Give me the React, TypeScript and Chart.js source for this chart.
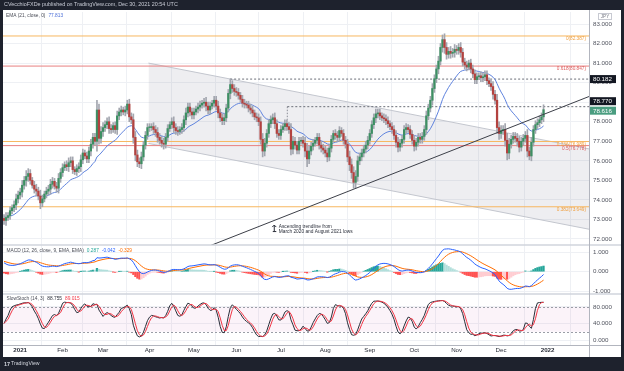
import React, { useEffect, useRef } from 'react';
import { Chart, registerables } from 'chart.js';
Chart.register(...registerables);

// ---------------- data ----------------
const monthTickBars = [8, 29, 49, 72, 94, 115, 137, 159, 181, 203, 224, 246, 269];
const monthTickLabels = ['2021', 'Feb', 'Mar', 'Apr', 'May', 'Jun', 'Jul', 'Aug', 'Sep', 'Oct', 'Nov', 'Dec', '2022'];

const firstOpen = 73.05;
// daily closes, Dec 21 2020 .. Dec 30 2021
const closes = [
  72.95, 73.1, 73.2, 73.45, 73.6, 73.75, 74.05, 74.25,
  74.4, 74.75, 75.0, 75.2, 75.35, 75.0, 74.75, 74.55, 74.45, 74.2, 73.85, 74.05, 74.3, 74.45, 74.55, 74.8, 74.95, 74.7, 74.6, 75.1, 75.4,
  75.65, 75.8, 75.7, 75.9, 76.0, 75.55, 75.45, 75.6, 75.7, 76.05, 76.4, 76.25, 76.1, 76.5, 76.85, 77.2, 77.0, 78.6, 77.15, 77.5,
  77.7, 77.85, 78.0, 77.65, 77.6, 77.8, 77.6, 78.3, 78.5, 78.6, 78.5, 78.6, 78.9, 78.25, 78.1, 77.2, 76.3, 75.95, 75.85, 76.2, 76.8, 77.3, 77.7,
  77.7, 77.75, 77.6, 77.45, 77.2, 77.05, 76.9, 76.85, 77.2, 77.65, 77.85, 78.0, 77.7, 77.55, 77.5, 77.6, 77.7, 78.1, 78.45, 78.75, 78.5, 78.35,
  78.5, 78.65, 78.75, 78.85, 78.95, 79.0, 78.8, 78.6, 78.8, 78.95, 79.1, 78.8, 78.45, 78.2, 78.05, 78.2, 78.7, 79.45, 79.9, 79.7, 79.55,
  79.5, 79.35, 79.15, 78.95, 78.9, 78.85, 78.7, 78.6, 78.45, 78.25, 78.2, 78.0, 77.1, 76.5, 76.9, 77.4, 77.9, 78.1, 78.2, 77.9, 77.4, 77.3,
  77.6, 77.75, 77.9, 77.75, 77.6, 76.6, 77.0, 76.8, 76.55, 77.0, 77.05, 76.9, 76.5, 76.1, 76.5, 76.75, 76.9, 77.05, 77.2, 76.8, 76.65, 76.55,
  76.4, 76.2, 76.65, 77.1, 77.4, 77.3, 77.2, 77.55, 77.4, 77.05, 76.85, 76.2, 75.8, 75.4, 74.9, 75.2, 76.0, 76.2, 76.4, 76.6, 76.8, 77.05,
  77.4, 77.85, 78.2, 78.4, 78.45, 78.3, 78.2, 78.15, 78.05, 77.9, 77.75, 77.6, 77.3, 76.95, 76.7, 76.9, 77.1, 77.6, 77.7, 77.6, 77.35, 77.05,
  76.75, 76.95, 77.2, 77.1, 77.25, 77.6, 78.3, 78.7, 79.1, 79.7, 80.2, 80.7, 81.1, 81.8, 82.2, 81.8, 81.45, 81.6, 81.5, 81.55, 81.7,
  81.65, 81.8, 81.55, 81.05, 80.9, 80.8, 81.0, 80.7, 80.45, 80.15, 80.3, 80.35, 80.25, 80.3, 80.4, 80.1, 79.95, 79.8, 79.4, 79.1, 77.7, 77.4,
  77.55, 77.6, 77.05, 76.4, 76.85, 77.1, 77.25, 77.15, 77.0, 76.7, 77.0, 77.15, 77.3, 76.5, 76.25, 76.95, 77.6, 77.85, 77.95, 78.1, 78.25, 78.616,
];
// wick length beyond the body, per candle
const wicks = [
  0.2, 0.25, 0.15, 0.2, 0.15, 0.2, 0.25, 0.2,
  0.2, 0.25, 0.2, 0.3, 0.25, 0.2, 0.15, 0.2, 0.25, 0.2, 0.3, 0.2, 0.15, 0.2, 0.2, 0.25, 0.2, 0.15, 0.2, 0.25, 0.2,
  0.2, 0.15, 0.2, 0.25, 0.2, 0.2, 0.15, 0.2, 0.2, 0.25, 0.2, 0.15, 0.2, 0.2, 0.25, 0.2, 0.2, 0.5, 0.3, 0.25,
  0.25, 0.2, 0.2, 0.25, 0.2, 0.15, 0.2, 0.25, 0.2, 0.2, 0.15, 0.2, 0.2, 0.25, 0.2, 0.3, 0.3, 0.25, 0.2, 0.25, 0.2, 0.2, 0.2,
  0.2, 0.15, 0.2, 0.2, 0.25, 0.2, 0.2, 0.25, 0.2, 0.2, 0.15, 0.2, 0.25, 0.2, 0.2, 0.15, 0.2, 0.2, 0.25, 0.2, 0.2, 0.2,
  0.2, 0.15, 0.2, 0.2, 0.15, 0.2, 0.25, 0.2, 0.2, 0.15, 0.2, 0.2, 0.25, 0.2, 0.2, 0.2, 0.2, 0.2, 0.28, 0.2, 0.2,
  0.2, 0.2, 0.15, 0.2, 0.2, 0.15, 0.2, 0.2, 0.2, 0.15, 0.2, 0.2, 0.25, 0.3, 0.25, 0.2, 0.2, 0.2, 0.2, 0.25, 0.2, 0.2,
  0.2, 0.15, 0.2, 0.2, 0.2, 0.3, 0.25, 0.2, 0.2, 0.2, 0.15, 0.2, 0.3, 0.4, 0.25, 0.2, 0.2, 0.15, 0.2, 0.2, 0.2, 0.2,
  0.2, 0.25, 0.2, 0.2, 0.15, 0.2, 0.2, 0.2, 0.15, 0.2, 0.2, 0.25, 0.3, 0.3, 0.3, 0.3, 0.25, 0.2, 0.2, 0.2, 0.2, 0.2,
  0.2, 0.2, 0.2, 0.25, 0.2, 0.2, 0.15, 0.2, 0.2, 0.2, 0.15, 0.2, 0.2, 0.25, 0.25, 0.2, 0.2, 0.2, 0.2, 0.15, 0.2, 0.2,
  0.25, 0.2, 0.2, 0.2, 0.2, 0.2, 0.25, 0.2, 0.2, 0.25, 0.2, 0.2, 0.25, 0.2, 0.24, 0.3, 0.25, 0.2, 0.25, 0.2, 0.25,
  0.2, 0.2, 0.25, 0.2, 0.2, 0.2, 0.15, 0.2, 0.2, 0.2, 0.2, 0.15, 0.2, 0.2, 0.2, 0.2, 0.15, 0.2, 0.25, 0.2, 0.3, 0.3,
  0.25, 0.2, 0.3, 0.35, 0.3, 0.2, 0.2, 0.2, 0.25, 0.25, 0.2, 0.2, 0.2, 0.3, 0.2, 0.25, 0.2, 0.2, 0.2, 0.2, 0.2, 0.25,
];

const emaSeed = 73.15;
const macdFastSeed = 73.55;
const macdSlowSeed = 73.0;
const macdSignalSeed = 0.55;

const priceTicks = [72, 73, 74, 75, 76, 77, 78, 79, 80, 81, 82, 83];
const macdTicks = [1, 0, -1];
const stochTicks = [80, 40, 0];
const stochBand = [20, 80];

const fibPrices = [82.387, 80.847, 76.989, 76.778, 73.649];
const fibLabels = ['0(82.387)', '0.618(80.847)', '0.236(76.989)', '0.5(76.778)', '0.382(73.649)'];

const levelPrices = [80.182, 78.77];
const levelStartBars = [111.9, 140.2];
const bracketEnd = 78.1;

const channelBars = [71.5, 289.5];
const channelUpper = [81.0, 76.61];
const channelLower = [76.89, 72.5];

const trendBars = [100, 289.5];
const trendPrices = [71.576, 79.29];

const tagPrices = [80.182, 78.77, 78.616];
const tagTexts = ['80.182', '78.770', '78.616'];

const headerText = 'CVecchioFXDe published on TradingView.com, Dec 30, 2021 20:54 UTC';
const emaLegend = ['EMA (21, close, 0)', '77.813'];
const macdLegend = ['MACD (12, 26, close, 9, EMA, EMA)', '0.287', '-0.042', '-0.329'];
const stochLegend = ['SlowStoch (14, 3)', '88.755', '89.015'];
const noteLines = ['Ascending trendline from', 'March 2020 and August 2021 lows'];
const noteAnchor = [133.5, 72.56];

// ---------------- styles ----------------
const FONT = '"Liberation Sans", Arial, sans-serif';
const ORANGE = '#f7b760';
const RED = '#e88080';
const fibColors = [ORANGE, RED, ORANGE, RED, ORANGE];
const fibTextColors = ['#f0a040', '#dd5c5c', '#f0a040', '#dd5c5c', '#f0a040'];
const UP = '#3d8f63';
const DOWN = '#b3423f';
const WICK = '#a3a6af';
const GRID = '#eef0f4';
const AXIS_TXT = '#50535e';

// ---------------- derived series ----------------
const bars = closes.map((_, i) => i);
const opens = closes.map((c, i) => (i === 0 ? firstOpen : closes[i - 1]));
const highs = closes.map((c, i) => Math.max(opens[i], c) + wicks[i]);
const lows = closes.map((c, i) => Math.min(opens[i], c) - wicks[i]);

function ema(vals: number[], period: number, seed: number) {
  const k = 2 / (period + 1);
  const out: number[] = [];
  let e = seed;
  vals.forEach((v) => {
    e = e + k * (v - e);
    out.push(e);
  });
  return out;
}
const ema21 = ema(closes, 21, emaSeed);
const fast = ema(closes, 12, macdFastSeed);
const slow = ema(closes, 26, macdSlowSeed);
const macd = fast.map((f, i) => f - slow[i]);
const signal = ema(macd, 9, macdSignalSeed);
const hist = macd.map((m, i) => m - signal[i]);
const histColors = hist.map((h, i) => {
  const p = i > 0 ? hist[i - 1] : h;
  if (h >= 0) return h >= p ? '#26a69a' : '#b2dfdb';
  return h <= p ? '#ff5252' : '#ffcdd2';
});
const rawK = closes.map((c, i) => {
  const s = Math.max(0, i - 13);
  const hh = Math.max(...highs.slice(s, i + 1));
  const ll = Math.min(...lows.slice(s, i + 1));
  return hh === ll ? 50 : (100 * (c - ll)) / (hh - ll);
});
const sma = (v: number[], n: number) =>
  v.map((_, i) => {
    const s = Math.max(0, i - n + 1);
    const w = v.slice(s, i + 1);
    return w.reduce((a, b) => a + b, 0) / w.length;
  });
const stochK = sma(rawK, 3);
const stochD = sma(stochK, 3);

const X_MIN = -0.5;
const X_MAX = 289.5;

function hline(p: number, from = X_MIN) {
  return [{ x: from, y: p }, { x: X_MAX, y: p }];
}

export default function App() {
  const ref = useRef<HTMLCanvasElement | null>(null);

  useEffect(() => {
    document.body.style.margin = '0';
    const canvas = ref.current!;

    const overlay = {
      id: 'tvOverlay',
      beforeDraw(chart: any) {
        const ctx = chart.ctx;
        ctx.save();
        ctx.fillStyle = '#1e222d';
        ctx.fillRect(0, 0, chart.width, chart.height);
        ctx.fillStyle = '#ffffff';
        ctx.fillRect(3, 10, 618, 347);
        ctx.restore();
      },
      beforeDatasetsDraw(chart: any) {
        const ctx = chart.ctx;
        const ys = chart.scales.yStoch;
        const a = chart.chartArea;
        const y80 = ys.getPixelForValue(stochBand[1]);
        const y20 = ys.getPixelForValue(stochBand[0]);
        ctx.save();
        ctx.fillStyle = 'rgba(200, 80, 170, 0.07)';
        ctx.fillRect(a.left, y80, a.right - a.left, y20 - y80);
        ctx.strokeStyle = '#9a9da6';
        ctx.lineWidth = 1;
        ctx.setLineDash([2, 2]);
        [y80, y20].forEach((y) => {
          ctx.beginPath();
          ctx.moveTo(a.left, Math.round(y) + 0.5);
          ctx.lineTo(a.right, Math.round(y) + 0.5);
          ctx.stroke();
        });
        ctx.restore();
      },
      afterDraw(chart: any) {
        const ctx = chart.ctx;
        const y = chart.scales.y;
        const x = chart.scales.x;
        const ym = chart.scales.yMacd;
        const yst = chart.scales.yStoch;
        const a = chart.chartArea;
        ctx.save();
        // separators
        ctx.strokeStyle = '#d1d4dc';
        ctx.lineWidth = 1.5;
        [ym.top, yst.top].forEach((yy: number) => {
          ctx.beginPath();
          ctx.moveTo(3, yy);
          ctx.lineTo(621, yy);
          ctx.stroke();
        });
        ctx.strokeStyle = '#b2b5be';
        ctx.lineWidth = 1;
        ctx.beginPath();
        ctx.moveTo(a.right + 0.5, 10);
        ctx.lineTo(a.right + 0.5, 357);
        ctx.moveTo(3, a.bottom + 0.5);
        ctx.lineTo(621, a.bottom + 0.5);
        ctx.stroke();

        const seg = (parts: [string, string][], x0: number, y0: number, size: number) => {
          ctx.font = `${size}px ${FONT}`;
          ctx.textBaseline = 'middle';
          ctx.textAlign = 'left';
          let cx = x0;
          parts.forEach(([t, c]) => {
            ctx.fillStyle = c;
            ctx.fillText(t, cx, y0);
            cx += ctx.measureText(t).width + 3;
          });
        };
        // header
        seg([[headerText, '#c9ccd6']], 4, 5, 5.4);
        // legends
        seg([[emaLegend[0], '#4a4d57'], [emaLegend[1], '#4c6fd8']], 6, 16, 4.8);
        seg(
          [
            [macdLegend[0], '#4a4d57'],
            [macdLegend[1], '#26a69a'],
            [macdLegend[2], '#2962ff'],
            [macdLegend[3], '#ff6d00'],
          ],
          6.5,
          250.5,
          4.8
        );
        seg([[stochLegend[0], '#4a4d57'], [stochLegend[1], '#2a2e39'], [stochLegend[2], '#f23645']], 6.5, 299, 4.8);

        // fib labels
        ctx.font = `4.7px ${FONT}`;
        ctx.textAlign = 'right';
        ctx.textBaseline = 'middle';
        fibPrices.forEach((p, i) => {
          ctx.fillStyle = fibTextColors[i];
          ctx.fillText(fibLabels[i], 586, y.getPixelForValue(p) + 3);
        });

        // trendline note
        const nx = x.getPixelForValue(noteAnchor[0]);
        const ny = y.getPixelForValue(noteAnchor[1]);
        ctx.strokeStyle = '#2a2e39';
        ctx.lineWidth = 1;
        ctx.beginPath();
        ctx.moveTo(nx + 0.5, ny - 3);
        ctx.lineTo(nx + 0.5, ny + 3);
        ctx.moveTo(nx - 1.5, ny - 1);
        ctx.lineTo(nx + 0.5, ny - 3);
        ctx.lineTo(nx + 2.5, ny - 1);
        ctx.moveTo(nx - 1, ny + 3.5);
        ctx.lineTo(nx + 2.5, ny + 3.5);
        ctx.stroke();
        ctx.font = `4.8px ${FONT}`;
        ctx.textAlign = 'left';
        ctx.fillStyle = '#2a2e39';
        ctx.fillText(noteLines[0], nx + 5, ny - 1.5);
        ctx.fillText(noteLines[1], nx + 5, ny + 3.5);

        // price tags
        const tagY = tagPrices.map((p) => y.getPixelForValue(p));
        tagY[2] = tagY[2] + 1;
        tagY[1] = Math.min(tagY[1], tagY[2] - 9.5);
        const tagBg = ['#131722', '#131722', '#4a9d80'];
        ctx.font = `6.2px ${FONT}`;
        tagTexts.forEach((t, i) => {
          ctx.fillStyle = tagBg[i];
          ctx.fillRect(a.right + 1, tagY[i] - 4, 26, 8);
          ctx.fillStyle = '#ffffff';
          ctx.textAlign = 'left';
          ctx.fillText(t, a.right + 4, tagY[i] + 0.3);
        });

        // JPY box
        ctx.strokeStyle = '#c8cad2';
        ctx.strokeRect(598.5, 13.5, 13, 6);
        ctx.fillStyle = '#787b86';
        ctx.font = `4.6px ${FONT}`;
        ctx.textAlign = 'center';
        ctx.fillText('JPY', 605, 16.8);

        // footer logo
        ctx.fillStyle = '#d1d4dc';
        ctx.font = `bold 5.5px ${FONT}`;
        ctx.textAlign = 'left';
        ctx.fillText('17', 4, 364);
        ctx.font = `5.2px ${FONT}`;
        ctx.fillText('TradingView', 11, 364);
        ctx.restore();
      },
    };

    const lineBase = { type: 'line', pointRadius: 0, borderWidth: 1, fill: false, tension: 0 };

    const chart = new Chart(canvas, {
      type: 'bar',
      data: {
        datasets: [
          {
            ...lineBase,
            data: [{ x: trendBars[0], y: trendPrices[0] }, { x: trendBars[1], y: trendPrices[1] }],
            borderColor: '#3c3f48',
            yAxisID: 'y',
            order: 0,
          },
          {
            type: 'bar',
            data: bars.map((i) => ({ x: i, y: [opens[i], closes[i]] })),
            backgroundColor: bars.map((i) => (closes[i] >= opens[i] ? UP : DOWN)),
            barThickness: 1.6,
            minBarLength: 0.8,
            grouped: false,
            yAxisID: 'y',
            order: 1,
          },
          {
            type: 'bar',
            data: bars.map((i) => ({ x: i, y: [lows[i], highs[i]] })),
            backgroundColor: WICK,
            barThickness: 1,
            grouped: false,
            yAxisID: 'y',
            order: 2,
          },
          {
            ...lineBase,
            data: bars.map((i) => ({ x: i, y: ema21[i] })),
            borderColor: '#5f83de',
            yAxisID: 'y',
            order: 3,
          },
          ...levelPrices.map((p, k) => ({
            ...lineBase,
            data: hline(p, levelStartBars[k]),
            borderColor: '#6b6e78',
            borderDash: [2, 2],
            yAxisID: 'y',
            order: 4,
          })),
          {
            ...lineBase,
            data: [{ x: levelStartBars[1], y: levelPrices[1] }, { x: levelStartBars[1], y: bracketEnd }],
            borderColor: '#8a8d96',
            borderDash: [1.5, 1.5],
            yAxisID: 'y',
            order: 4,
          },
          ...fibPrices.map((p, k) => ({
            ...lineBase,
            data: hline(p),
            borderColor: fibColors[k],
            yAxisID: 'y',
            order: 5,
          })),
          {
            ...lineBase,
            data: [{ x: channelBars[0], y: channelUpper[0] }, { x: channelBars[1], y: channelUpper[1] }],
            borderColor: '#c3c6ce',
            yAxisID: 'y',
            order: 6,
          },
          {
            ...lineBase,
            data: [{ x: channelBars[0], y: channelLower[0] }, { x: channelBars[1], y: channelLower[1] }],
            borderColor: '#c3c6ce',
            backgroundColor: 'rgba(120, 125, 150, 0.13)',
            fill: '-1',
            yAxisID: 'y',
            order: 7,
          },
          {
            ...lineBase,
            data: bars.map((i) => ({ x: i, y: macd[i] })),
            borderColor: '#2962ff',
            yAxisID: 'yMacd',
            order: 8,
          },
          {
            ...lineBase,
            data: bars.map((i) => ({ x: i, y: signal[i] })),
            borderColor: '#ff6d00',
            yAxisID: 'yMacd',
            order: 9,
          },
          {
            type: 'bar',
            data: bars.map((i) => ({ x: i, y: hist[i] })),
            backgroundColor: histColors,
            barThickness: 1.6,
            grouped: false,
            yAxisID: 'yMacd',
            order: 10,
          },
          {
            ...lineBase,
            data: bars.map((i) => ({ x: i, y: stochD[i] })),
            borderColor: '#f23645',
            yAxisID: 'yStoch',
            order: 11,
          },
          {
            ...lineBase,
            data: bars.map((i) => ({ x: i, y: stochK[i] })),
            borderColor: '#2a2e39',
            yAxisID: 'yStoch',
            order: 12,
          },
        ] as any,
      },
      options: {
        responsive: false,
        animation: false,
        events: [],
        layout: { padding: { left: 3, right: 3, top: 12, bottom: 14 } },
        plugins: { legend: { display: false }, tooltip: { enabled: false } },
        scales: {
          x: {
            type: 'linear',
            min: X_MIN,
            max: X_MAX,
            offset: false,
            afterFit: (s: any) => {
              s.height = 12;
            },
            afterBuildTicks: (s: any) => {
              s.ticks = monthTickBars.map((v) => ({ value: v }));
            },
            ticks: {
              autoSkip: false,
              maxRotation: 0,
              padding: 2,
              color: '#2a2e39',
              font: (c: any) => ({
                family: FONT,
                size: 6.2,
                weight: c.index === 0 || c.index === monthTickBars.length - 1 ? 'bold' : 'normal',
              }),
              callback: (v: any) => {
                const k = monthTickBars.indexOf(Number(v));
                return k >= 0 ? monthTickLabels[k] : '';
              },
            },
            grid: { color: GRID, drawTicks: false },
            border: { display: false },
          },
          y: {
            type: 'linear',
            position: 'right',
            stack: 'pane',
            stackWeight: 233,
            min: 71.693,
            max: 83.614,
            afterFit: (s: any) => {
              s.width = 32;
            },
            afterBuildTicks: (s: any) => {
              s.ticks = priceTicks.map((v) => ({ value: v }));
            },
            ticks: {
              padding: 4,
              color: AXIS_TXT,
              font: { family: FONT, size: 6.2 },
              callback: (v: any) => Number(v).toFixed(3),
            },
            grid: { color: GRID, drawTicks: false },
            border: { display: false },
          },
          yMacd: {
            type: 'linear',
            position: 'right',
            stack: 'pane',
            stackWeight: 49,
            min: -1.152,
            max: 1.38,
            afterFit: (s: any) => {
              s.width = 32;
            },
            afterBuildTicks: (s: any) => {
              s.ticks = macdTicks.map((v) => ({ value: v }));
            },
            ticks: {
              padding: 4,
              color: AXIS_TXT,
              font: { family: FONT, size: 6.2 },
              callback: (v: any) => Number(v).toFixed(3),
            },
            grid: { color: GRID, drawTicks: false },
            border: { display: false },
          },
          yStoch: {
            type: 'linear',
            position: 'right',
            stack: 'pane',
            stackWeight: 51,
            min: -12.1,
            max: 111.5,
            afterFit: (s: any) => {
              s.width = 32;
            },
            afterBuildTicks: (s: any) => {
              s.ticks = stochTicks.map((v) => ({ value: v }));
            },
            ticks: {
              padding: 4,
              color: AXIS_TXT,
              font: { family: FONT, size: 6.2 },
              callback: (v: any) => Number(v).toFixed(3),
            },
            grid: { color: GRID, drawTicks: false },
            border: { display: false },
          },
        },
      } as any,
      plugins: [overlay],
    });
    return () => chart.destroy();
  }, []);

  return (
    <div style={{ position: 'fixed', left: 0, top: 0, width: 624, height: 371 }}>
      <canvas ref={ref} width={624} height={371} style={{ width: 624, height: 371, display: 'block' }} />
    </div>
  );
}
